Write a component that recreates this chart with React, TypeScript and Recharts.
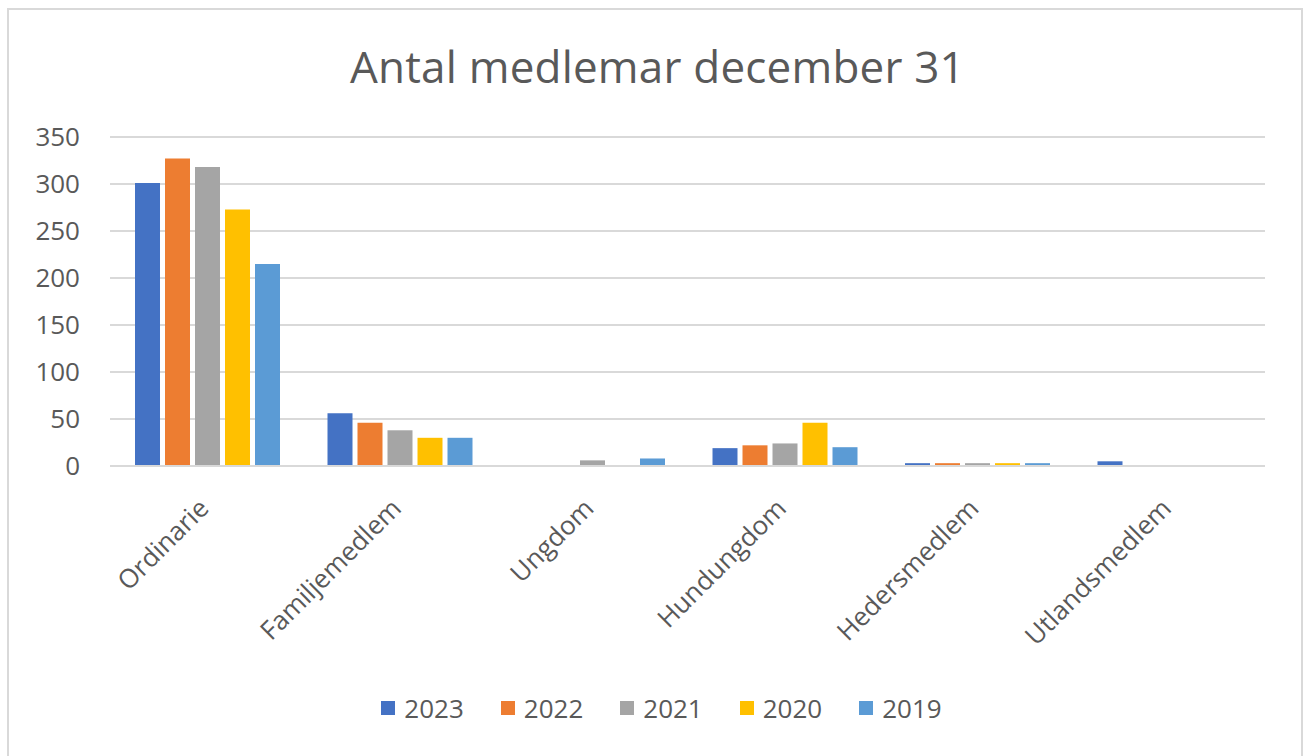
import React from "react"
import { Bar, BarChart, CartesianGrid, Legend, XAxis, YAxis } from "recharts"

const categories = ["Ordinarie", "Familjemedlem", "Ungdom", "Hundungdom", "Hedersmedlem", "Utlandsmedlem"]
const years = ["2023", "2022", "2021", "2020", "2019"]
const colors = ["#4472C4", "#ED7D31", "#A5A5A5", "#FFC000", "#5B9BD5"]

const v2023 = [301, 56, 0, 19, 3, 5]
const v2022 = [327, 46, 0, 22, 3, 0]
const v2021 = [318, 38, 6, 24, 3, 0]
const v2020 = [273, 30, 0, 46, 3, 0]
const v2019 = [215, 30, 8, 20, 3, 0]

const yTicks = [0, 50, 100, 150, 200, 250, 300, 350]

const series = [v2023, v2022, v2021, v2020, v2019]

const data = categories.map((name, i) => {
  const row: Record<string, string | number> = { name }
  years.forEach((y, j) => {
    row[y] = series[j][i]
  })
  return row
})

const FONT = "'Open Sans', sans-serif"
const TEXT = "#595959"

function CategoryTick(props: any) {
  const { x, y, payload } = props
  const tx = x + 4
  const ty = y + 36
  return (
    <text
      x={tx}
      y={ty}
      transform={`rotate(-45, ${tx}, ${ty})`}
      textAnchor="end"
      fontSize={26}
      fontFamily={FONT}
      fill={TEXT}
    >
      {payload.value}
    </text>
  )
}

function LegendContent() {
  return (
    <div style={{ display: "flex", justifyContent: "center", gap: 37, paddingLeft: 18, fontFamily: FONT, fontSize: 26, color: TEXT, lineHeight: "36px" }}>
      {years.map((y, i) => (
        <div key={y} style={{ display: "flex", alignItems: "center" }}>
          <span style={{ width: 14, height: 14, background: colors[i], marginRight: 9, display: "inline-block" }} />
          <span>{y}</span>
        </div>
      ))}
    </div>
  )
}

export default function App() {
  return (
    <div style={{ position: "absolute", left: 0, top: 0, width: 1305, height: 756, background: "#fff", overflow: "hidden" }}>
      <div
        style={{
          position: "absolute",
          left: 7,
          top: 8,
          width: 1296,
          height: 770,
          border: "2px solid #d9d9d9",
          boxSizing: "border-box",
        }}
      />
      <div
        style={{
          position: "absolute",
          left: 5,
          top: 44,
          width: 1305,
          textAlign: "center",
          fontFamily: FONT,
          fontSize: 44,
          letterSpacing: 0.2,
          lineHeight: "44px",
          color: TEXT,
        }}
      >
        Antal medlemar december 31
      </div>
      <div style={{ position: "absolute", left: 0, top: 0 }}>
        <BarChart
          width={1305}
          height={756}
          data={data}
          margin={{ top: 137, right: 40, left: 0, bottom: 30 }}
          barCategoryGap={25}
          barGap={5}
        >
          <CartesianGrid vertical={false} stroke="#d9d9d9" strokeWidth={2} />
          <XAxis
            dataKey="name"
            axisLine={{ stroke: "#d9d9d9", strokeWidth: 2 }}
            tickLine={false}
            interval={0}
            height={224}
            tick={<CategoryTick />}
          />
          <YAxis
            domain={[0, 350]}
            ticks={yTicks}
            width={110}
            axisLine={false}
            tickLine={false}
            tickMargin={24}
            tick={{ fontSize: 26, fontFamily: FONT, fill: TEXT }}
          />
          <Legend
            verticalAlign="bottom"
            content={<LegendContent />}
            wrapperStyle={{ left: 0, width: 1305, top: 690 }}
          />
          {years.map((y, i) => (
            <Bar key={y} dataKey={y} fill={colors[i]} isAnimationActive={false} />
          ))}
        </BarChart>
      </div>
    </div>
  )
}
